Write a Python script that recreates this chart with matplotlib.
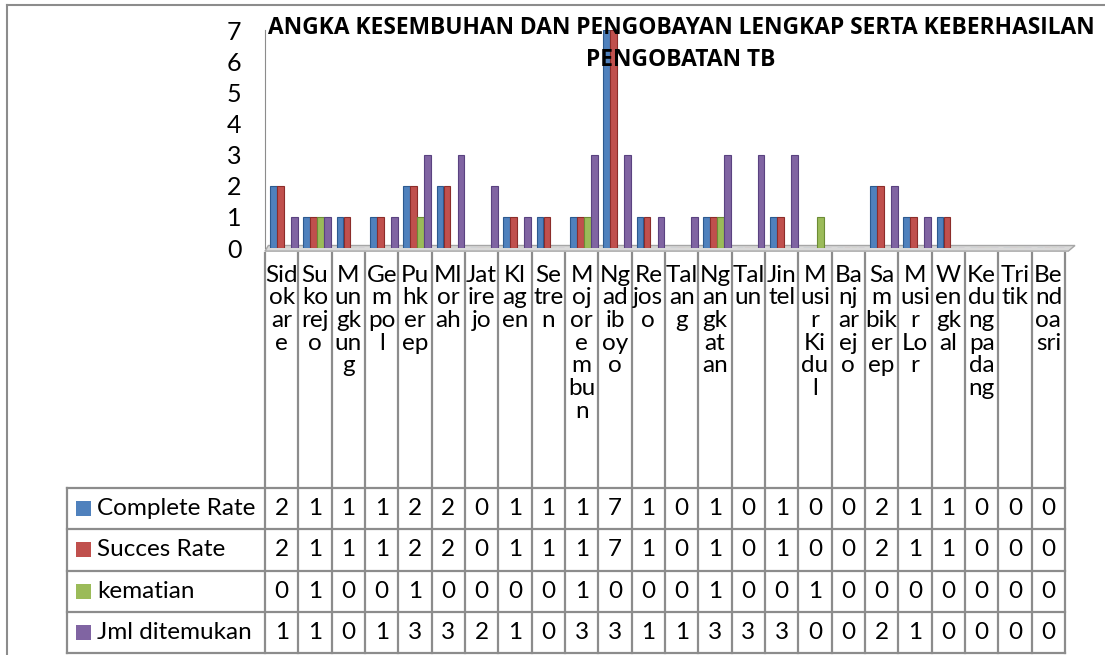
import matplotlib
matplotlib.use("Agg")
import matplotlib.pyplot as plt
from matplotlib.patches import Rectangle, Polygon

plt.rcParams['font.family'] = ['Lato', 'DejaVu Sans']

desa = ['Sidokare', 'Sukorejo', 'Munggung', 'Gempol', 'Puhkerep', 'Mlorah', 'Jatirejo',
        'Klagen', 'Setren', 'Mojorembun', 'Ngadiboyo', 'Rejoso', 'Talang', 'Ngangkatan',
        'Talun', 'Jintel', 'Musir Kidul', 'Banjarejo', 'Sambikerep', 'Musir Lor',
        'Wengkal', 'Kedungpadang', 'Tritik', 'Bendoasri']
# labels as they wrap inside the narrow table columns
desa_wrap = ['Sid|ok|ar|e', 'Su|ko|rej|o', 'M|un|gk|un|g', 'Ge|m|po|l', 'Pu|hk|er|ep',
             'Ml|or|ah', 'Jat|ire|jo', 'Kl|ag|en', 'Se|tre|n', 'M|oj|or|e|m|bu|n',
             'Ng|ad|ib|oy|o', 'Re|jos|o', 'Tal|an|g', 'Ng|an|gk|at|an', 'Tal|un',
             'Jin|tel', 'M|usi|r|Ki|du|l', 'Ba|nj|ar|ej|o', 'Sa|m|bik|er|ep',
             'M|usi|r|Lo|r', 'W|en|gk|al', 'Ke|du|ng|pa|da|ng', 'Tri|tik', 'Be|nd|oa|sri']

complete_rate = [2, 1, 1, 1, 2, 2, 0, 1, 1, 1, 7, 1, 0, 1, 0, 1, 0, 0, 2, 1, 1, 0, 0, 0]
succes_rate   = [2, 1, 1, 1, 2, 2, 0, 1, 1, 1, 7, 1, 0, 1, 0, 1, 0, 0, 2, 1, 1, 0, 0, 0]
kematian      = [0, 1, 0, 0, 1, 0, 0, 0, 0, 1, 0, 0, 0, 1, 0, 0, 1, 0, 0, 0, 0, 0, 0, 0]
jml_ditemukan = [1, 1, 0, 1, 3, 3, 2, 1, 0, 3, 3, 1, 1, 3, 3, 3, 0, 0, 2, 1, 0, 0, 0, 0]

series_names = ['Complete Rate', 'Succes Rate', 'kematian', 'Jml ditemukan']
series_vals = [complete_rate, succes_rate, kematian, jml_ditemukan]
colors = ['#4F81BD', '#C0504D', '#9BBB59', '#8064A2']
edges = ['#2c5a8f', '#8c2d2a', '#6d8c35', '#5a4280']

W, H = 1105, 655
fig = plt.figure(figsize=(W / 100, H / 100), dpi=100)

# overlay axes in pixel units for frame and data table
ov = fig.add_axes([0, 0, 1, 1])
ov.set_xlim(0, W)
ov.set_ylim(H, 0)
ov.axis('off')

gray = '#8c8c8c'
ov.plot([7, W], [5, 5], color=gray, lw=1.5)
ov.plot([7, 7], [5, H], color=gray, lw=1.5)

# title sits on top of the bars, like in the original
tfont = dict(ha='center', va='center', fontsize=16.4, fontweight='bold',
             family='Open Sans', zorder=10)
fig.text(681 / W, 1 - 28 / H, 'ANGKA KESEMBUHAN DAN PENGOBAYAN LENGKAP SERTA KEBERHASILAN', **tfont)
fig.text(681 / W, 1 - 60 / H, 'PENGOBATAN TB', **tfont)

# bar chart area
x0, col_w = 265, 800 / 24
ax = fig.add_axes([x0 / W, 1 - 248 / H, 800 / W, 218 / H])
ax.set_xlim(0, 24)
ax.set_ylim(0, 7)
ax.patch.set_alpha(0)
for s in ['top', 'right', 'bottom']:
    ax.spines[s].set_visible(False)
ax.spines['left'].set_color(gray)
ax.set_xticks([])
ax.set_yticks(range(8))
ax.tick_params(axis='y', length=0, pad=17, labelsize=18)

floor = Polygon([(0, -0.1), (24.1, -0.1), (24.3, 0.08), (0.1, 0.08)], closed=True,
                facecolor='#d9d9d9', edgecolor='#a6a6a6', lw=1, clip_on=False, zorder=1)
ax.add_patch(floor)

offsets = [-0.25, -0.04, 0.17, 0.38]
xs = [i + 0.5 for i in range(len(desa))]
for vals, c, e, off in zip(series_vals, colors, edges, offsets):
    ax.bar([x + off for x in xs], vals, width=0.2, color=c, edgecolor=e, lw=0.8, zorder=3)

# data table
rows_y = [488, 529.3, 570.6, 611.9, 653]
head_top = 253
lw = 1.6
fs = 17.5
for i in range(len(desa) + 1):
    xx = x0 + i * col_w
    ov.plot([xx, xx], [head_top, rows_y[-1]], color=gray, lw=lw)
ov.plot([67, 67], [rows_y[0], rows_y[-1]], color=gray, lw=lw)
for yy in rows_y:
    ov.plot([67, x0 + 24 * col_w], [yy, yy], color=gray, lw=lw)

for i, lab in enumerate(desa_wrap):
    cx = x0 + (i + 0.5) * col_w
    for k, part in enumerate(lab.split('|')):
        ov.text(cx, 275 + k * 22.7, part, ha='center', va='center', fontsize=fs)

for r, (name, vals, c) in enumerate(zip(series_names, series_vals, colors)):
    cy = (rows_y[r] + rows_y[r + 1]) / 2
    ov.add_patch(Rectangle((76, cy - 7.5), 15, 15, facecolor=c, edgecolor='none'))
    ov.text(97, cy, name, ha='left', va='center', fontsize=fs)
    for i, v in enumerate(vals):
        ov.text(x0 + (i + 0.5) * col_w, cy, str(v), ha='center', va='center', fontsize=fs)

fig.savefig('out.png', dpi=100)
